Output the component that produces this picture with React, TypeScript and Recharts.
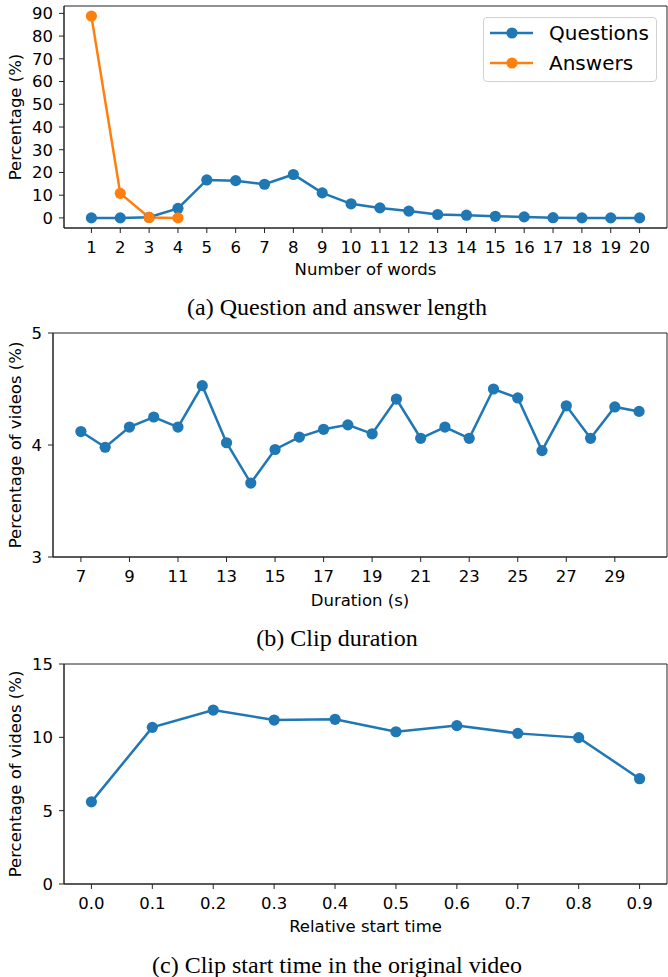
import { LineChart, Line, XAxis, YAxis, Legend, Label, ReferenceArea } from 'recharts';

// (a) question / answer length
const wordCounts = [1, 2, 3, 4, 5, 6, 7, 8, 9, 10, 11, 12, 13, 14, 15, 16, 17, 18, 19, 20];
const questionPct = [0, 0, 0.3, 4.2, 16.7, 16.4, 14.8, 19.1, 11.0, 6.2, 4.4, 3.0, 1.5, 1.2, 0.7, 0.45, 0.1, 0, 0, 0];
const answerPct = [88.8, 10.8, 0.2, 0];
const pctTicks = [0, 10, 20, 30, 40, 50, 60, 70, 80, 90];
const seriesNames = ['Questions', 'Answers'];

// (b) clip duration
const durations = [7, 8, 9, 10, 11, 12, 13, 14, 15, 16, 17, 18, 19, 20, 21, 22, 23, 24, 25, 26, 27, 28, 29, 30];
const durationPct = [4.12, 3.98, 4.16, 4.25, 4.16, 4.53, 4.02, 3.66, 3.96, 4.07, 4.14, 4.18, 4.10, 4.41, 4.06, 4.16, 4.06, 4.50, 4.42, 3.95, 4.35, 4.06, 4.34, 4.30];
const durationTicks = [7, 9, 11, 13, 15, 17, 19, 21, 23, 25, 27, 29];
const durationPctTicks = [3, 4, 5];

// (c) clip start time
const startTimes = [0.0, 0.1, 0.2, 0.3, 0.4, 0.5, 0.6, 0.7, 0.8, 0.9];
const startPct = [5.6, 10.68, 11.86, 11.18, 11.23, 10.38, 10.8, 10.27, 9.98, 7.18];
const startPctTicks = [0, 5, 10, 15];

const BLUE = '#1f77b4';
const ORANGE = '#ff7f0e';
const SPINE = '#222';
const FONT = '"DejaVu Sans", sans-serif';
const FS = 16.5;
const tickStyle = { fontSize: FS, fill: '#000', fontFamily: FONT };
const labelStyle = { fontSize: FS, fill: '#000', fontFamily: FONT };

const wordData = wordCounts.map((w, i) => ({ words: w, questions: questionPct[i], answers: answerPct[i] }));
const durationData = durations.map((d, i) => ({ duration: d, pct: durationPct[i] }));
const startData = startTimes.map((t, i) => ({ start: t, pct: startPct[i] }));

const dotFor = (color: string) => ({ r: 5.6, fill: color, stroke: color, strokeWidth: 0 });

function YLabel({ text, left, top }: { text: string; left: number; top: number }) {
  return (
    <div
      style={{
        position: 'absolute',
        left,
        top,
        transform: 'translate(-50%, -50%) rotate(-90deg)',
        whiteSpace: 'nowrap',
        fontFamily: FONT,
        fontSize: FS,
        color: '#000',
      }}
    >
      {text}
    </div>
  );
}

function Caption({ text, top }: { text: string; top: number }) {
  return (
    <div
      style={{
        position: 'absolute',
        left: 0,
        top,
        width: 674,
        textAlign: 'center',
        fontFamily: '"Liberation Serif", "Times New Roman", serif',
        fontSize: 24,
        lineHeight: '24px',
        color: '#000',
      }}
    >
      {text}
    </div>
  );
}

const renderLegend = (props: any) => {
  const items = [...(props.payload || [])].sort(
    (a: any, b: any) => seriesNames.indexOf(a.value) - seriesNames.indexOf(b.value)
  );
  return (
    <div
      style={{
        boxSizing: 'border-box',
        width: 174,
        height: 65,
        border: '1px solid #d0d0d0',
        borderRadius: 4,
        background: 'rgba(255,255,255,0.8)',
      }}
    >
      {items.map((entry: any) => (
        <div key={entry.value} style={{ display: 'flex', alignItems: 'center', height: 30 }}>
          <svg width={59} height={14} style={{ marginLeft: 6 }}>
            <line x1={0} y1={7} x2={43} y2={7} stroke={entry.color} strokeWidth={2.5} />
            <circle cx={22} cy={7} r={5.6} fill={entry.color} />
          </svg>
          <span style={{ fontFamily: FONT, fontSize: 20, color: '#000' }}>{entry.value}</span>
        </div>
      ))}
    </div>
  );
};

function Frame({ x, y }: { x: number[]; y: number[] }) {
  return null;
}

function LengthChart() {
  const xDomain = [0.05, 20.95];
  const yDomain = [-4.44, 93.24];
  return (
    <div style={{ position: 'absolute', left: 0, top: 0, width: 668, height: 300 }}>
      <LineChart width={668} height={300} data={wordData} margin={{ top: 6, right: 1, bottom: 0, left: 0 }}>
        <XAxis dataKey="words" type="number" domain={xDomain} ticks={wordCounts} interval={0} allowDataOverflow
          tick={tickStyle} tickSize={5} tickMargin={8} stroke={SPINE} height={72}>
          <Label value="Number of words" position="insideBottom" offset={25} style={labelStyle} />
        </XAxis>
        <YAxis type="number" domain={yDomain} ticks={pctTicks} interval={0} allowDataOverflow
          tick={tickStyle} tickSize={5} tickMargin={6} stroke={SPINE} width={64} />
        <ReferenceArea x1={xDomain[0]} x2={xDomain[1]} y1={yDomain[0]} y2={yDomain[1]}
          fill="none" stroke={SPINE} strokeWidth={1} ifOverflow="visible" />
        <Legend layout="horizontal" verticalAlign="middle" align="center" content={renderLegend}
          wrapperStyle={{ left: 483, top: 17, width: 174, height: 65 }} />
        <Line dataKey="questions" name="Questions" stroke={BLUE} strokeWidth={2.5} dot={dotFor(BLUE)}
          activeDot={false} isAnimationActive={false} />
        <Line dataKey="answers" name="Answers" stroke={ORANGE} strokeWidth={2.5} dot={dotFor(ORANGE)}
          activeDot={false} isAnimationActive={false} />
      </LineChart>
      <YLabel text="Percentage (%)" left={15} top={117} />
    </div>
  );
}

function DurationChart() {
  const xDomain = [5.85, 31.15];
  const yDomain = [3, 5];
  return (
    <div style={{ position: 'absolute', left: 0, top: 320, width: 668, height: 300 }}>
      <LineChart width={668} height={300} data={durationData} margin={{ top: 13, right: 1, bottom: 0, left: 0 }}>
        <XAxis dataKey="duration" type="number" domain={xDomain} ticks={durationTicks} interval={0} allowDataOverflow
          tick={tickStyle} tickSize={5} tickMargin={8} stroke={SPINE} height={63}>
          <Label value="Duration (s)" position="insideBottom" offset={14} style={labelStyle} />
        </XAxis>
        <YAxis type="number" domain={yDomain} ticks={durationPctTicks} interval={0} allowDataOverflow
          tick={tickStyle} tickSize={5} tickMargin={6} stroke={SPINE} width={53} />
        <ReferenceArea x1={xDomain[0]} x2={xDomain[1]} y1={yDomain[0]} y2={yDomain[1]}
          fill="none" stroke={SPINE} strokeWidth={1} ifOverflow="visible" />
        <Line dataKey="pct" stroke={BLUE} strokeWidth={2.5} dot={dotFor(BLUE)}
          activeDot={false} isAnimationActive={false} />
      </LineChart>
      <YLabel text="Percentage of videos (%)" left={15} top={125} />
    </div>
  );
}

function StartChart() {
  const xDomain = [-0.045, 0.945];
  const yDomain = [0, 15];
  return (
    <div style={{ position: 'absolute', left: 0, top: 650, width: 668, height: 327 }}>
      <LineChart width={668} height={327} data={startData} margin={{ top: 14, right: 1, bottom: 0, left: 0 }}>
        <XAxis dataKey="start" type="number" domain={xDomain} ticks={startTimes} interval={0} allowDataOverflow
          tickFormatter={(v: number) => v.toFixed(1)}
          tick={tickStyle} tickSize={5} tickMargin={8} stroke={SPINE} height={93}>
          <Label value="Relative start time" position="insideBottom" offset={45} style={labelStyle} />
        </XAxis>
        <YAxis type="number" domain={yDomain} ticks={startPctTicks} interval={0} allowDataOverflow
          tick={tickStyle} tickSize={5} tickMargin={6} stroke={SPINE} width={64} />
        <ReferenceArea x1={xDomain[0]} x2={xDomain[1]} y1={yDomain[0]} y2={yDomain[1]}
          fill="none" stroke={SPINE} strokeWidth={1} ifOverflow="visible" />
        <Line dataKey="pct" stroke={BLUE} strokeWidth={2.5} dot={dotFor(BLUE)}
          activeDot={false} isAnimationActive={false} />
      </LineChart>
      <YLabel text="Percentage of videos (%)" left={15} top={124} />
    </div>
  );
}

export default function App() {
  return (
    <div style={{ position: 'absolute', left: 0, top: 0, width: 668, height: 977, background: '#fff' }}>
      <LengthChart />
      <Caption text="(a) Question and answer length" top={295} />
      <DurationChart />
      <Caption text="(b) Clip duration" top={626} />
      <StartChart />
      <Caption text="(c) Clip start time in the original video" top={953} />
    </div>
  );
}
